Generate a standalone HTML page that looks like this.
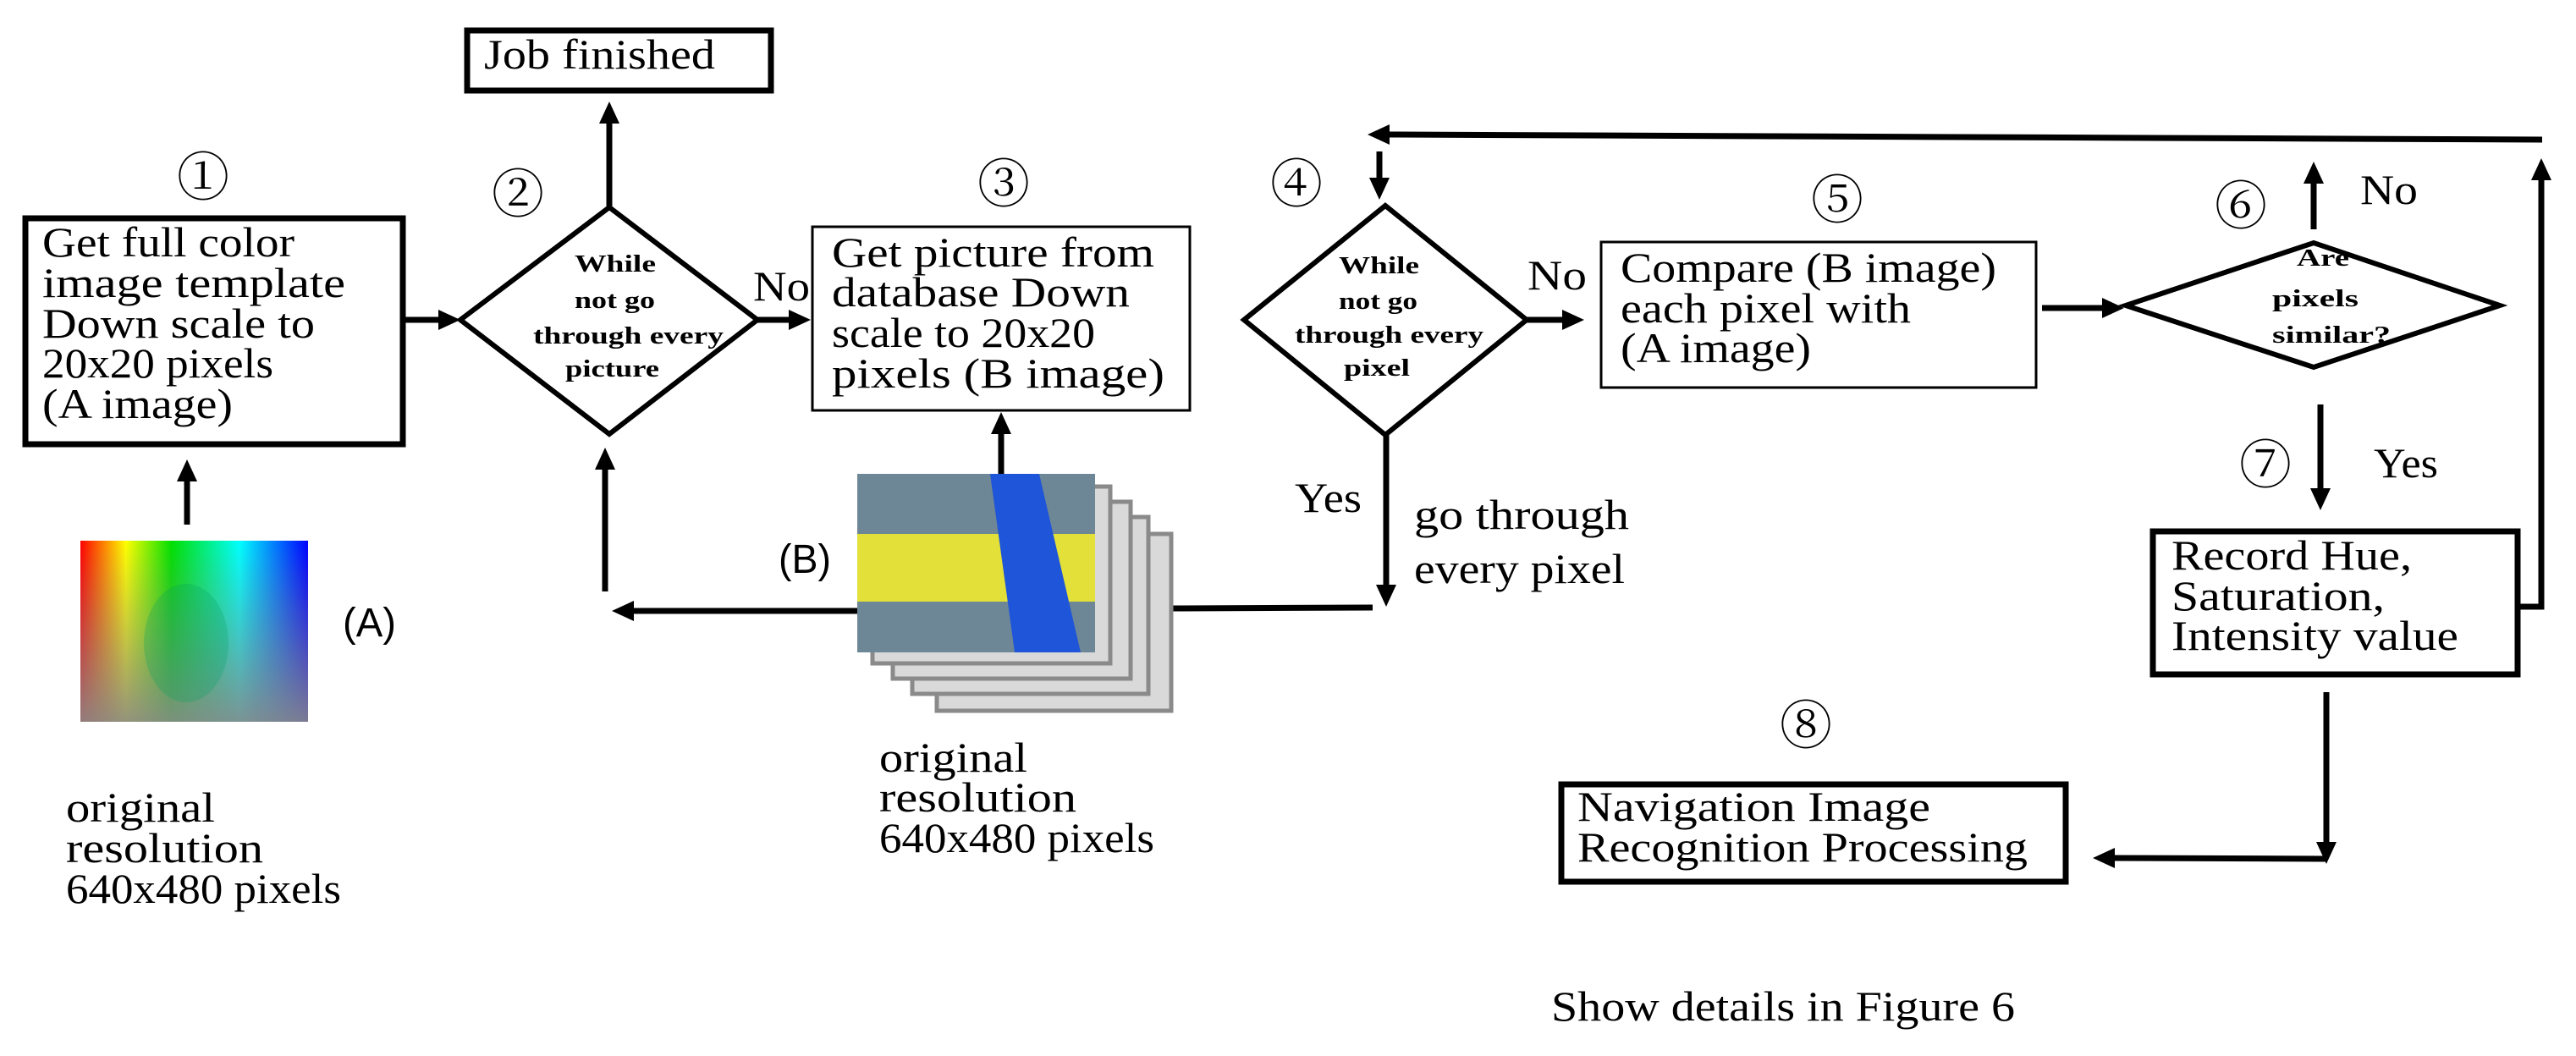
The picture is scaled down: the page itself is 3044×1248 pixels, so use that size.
<!DOCTYPE html>
<html><head><meta charset="utf-8"><style>
html,body{margin:0;padding:0;background:#fff}
svg{display:block}
.s{font-family:"Liberation Serif","Noto Serif CJK SC",serif;font-size:50px;fill:#000}
.b{font-family:"Liberation Serif",serif;font-size:28px;font-weight:bold;fill:#000}
.c{font-family:"Noto Serif CJK SC","Noto Sans CJK SC",serif;font-size:62px;fill:#000}
.a{font-family:"Liberation Sans",sans-serif;font-size:48px;fill:#000}
</style></head><body>
<svg width="3044" height="1248" viewBox="0 0 3044 1248" xmlns="http://www.w3.org/2000/svg">
<defs>
<linearGradient id="hue" x1="0" y1="0" x2="1" y2="0">
<stop offset="0" stop-color="#ff0000"/><stop offset="0.2" stop-color="#ffff00"/><stop offset="0.4" stop-color="#00e000"/><stop offset="0.7" stop-color="#00ffff"/><stop offset="1" stop-color="#0000ff"/>
</linearGradient>
<linearGradient id="fade" x1="0" y1="0" x2="0" y2="1">
<stop offset="0" stop-color="#888" stop-opacity="0"/><stop offset="1" stop-color="#888" stop-opacity="0.9"/>
</linearGradient>
</defs>
<g fill="none" stroke="#000">
<rect x="30" y="258" width="446" height="267" stroke-width="7"/>
<rect x="552" y="36" width="359" height="71" stroke-width="7"/>
<polygon points="544,378 720,245 895,378 720,513" stroke-width="6"/>
<rect x="960" y="268" width="446" height="217" stroke-width="3"/>
<polygon points="1470,378 1637,243 1804,378 1637,514" stroke-width="6"/>
<rect x="1892" y="286" width="514" height="172" stroke-width="3"/>
<polygon points="2512,361 2734,287 2954,361 2734,434" stroke-width="6"/>
<rect x="2544" y="628" width="431" height="169" stroke-width="7"/>
<rect x="1845" y="927" width="596" height="115" stroke-width="7"/>
</g>
<g stroke="#000" stroke-width="7" fill="none">
<line x1="479" y1="378" x2="522" y2="378"/>
<line x1="720" y1="245" x2="720" y2="140"/>
<line x1="895" y1="378" x2="936" y2="378"/>
<line x1="221" y1="620" x2="221" y2="565"/>
<line x1="1183" y1="560" x2="1183" y2="508"/>
<line x1="1013" y1="722" x2="745" y2="722"/>
<line x1="715" y1="699" x2="715" y2="552"/>
<line x1="1386" y1="719" x2="1622" y2="718"/>
<line x1="1638" y1="514" x2="1638" y2="695"/>
<line x1="3004" y1="165" x2="1638" y2="159"/>
<line x1="1630" y1="179" x2="1630" y2="214"/>
<line x1="1804" y1="378" x2="1850" y2="378"/>
<line x1="2413" y1="364" x2="2488" y2="364"/>
<line x1="2734" y1="271" x2="2734" y2="213"/>
<line x1="2742" y1="478" x2="2742" y2="581"/>
<polyline points="2978,717 3003,717 3003,209"/>
<line x1="2749" y1="818" x2="2749" y2="999"/>
<line x1="2749" y1="1015" x2="2495" y2="1014"/>
</g>
<g fill="#000">
<polygon points="544,378 518,366 518,390"/>
<polygon points="720,120 708,146 732,146"/>
<polygon points="958,378 932,366 932,390"/>
<polygon points="221,543 209,569 233,569"/>
<polygon points="1183,487 1171,513 1195,513"/>
<polygon points="723,722 749,710 749,734"/>
<polygon points="715,529 703,555 727,555"/>
<polygon points="1638,717 1626,691 1650,691"/>
<polygon points="1616,159 1642,147 1642,171"/>
<polygon points="1630,236 1618,210 1642,210"/>
<polygon points="1872,378 1846,366 1846,390"/>
<polygon points="2510,364 2484,352 2484,376"/>
<polygon points="2734,191 2722,217 2746,217"/>
<polygon points="2742,603 2730,577 2754,577"/>
<polygon points="3003,187 2991,213 3015,213"/>
<polygon points="2749,1021 2737,995 2761,995"/>
<polygon points="2473,1014 2499,1002 2499,1026"/>
</g>
<rect x="95" y="639" width="269" height="214" fill="url(#hue)"/>
<rect x="95" y="639" width="269" height="214" fill="url(#fade)"/>
<ellipse cx="220" cy="760" rx="50" ry="70" fill="#00a060" opacity="0.25"/>
<g fill="#d9d9d9" stroke="#8a8a8a" stroke-width="5">
<rect x="1107" y="631" width="277" height="209"/>
<rect x="1078" y="611" width="279" height="209"/>
<rect x="1055" y="593" width="281" height="209"/>
<rect x="1031" y="575" width="281" height="209"/>
</g>
<rect x="1013" y="560" width="281" height="211" fill="#6e8796"/>
<rect x="1013" y="631" width="281" height="80" fill="#e3e03a"/>
<polygon points="1170,560 1228,560 1277,771 1199,771" fill="#1f55d8"/>
<text class="s" x="572" y="81" textLength="273" lengthAdjust="spacingAndGlyphs">Job finished</text>
<text class="s" x="50" y="303" textLength="298" lengthAdjust="spacingAndGlyphs">Get full color</text>
<text class="s" x="50" y="351" textLength="358" lengthAdjust="spacingAndGlyphs">image template</text>
<text class="s" x="50" y="399" textLength="322" lengthAdjust="spacingAndGlyphs">Down scale to</text>
<text class="s" x="50" y="446" textLength="273" lengthAdjust="spacingAndGlyphs">20x20 pixels</text>
<text class="s" x="50" y="494" textLength="225" lengthAdjust="spacingAndGlyphs">(A image)</text>
<text class="b" x="679" y="321" textLength="96" lengthAdjust="spacingAndGlyphs">While</text>
<text class="b" x="679" y="364" textLength="95" lengthAdjust="spacingAndGlyphs">not go</text>
<text class="b" x="630" y="406" textLength="225" lengthAdjust="spacingAndGlyphs">through every</text>
<text class="b" x="668" y="445" textLength="111" lengthAdjust="spacingAndGlyphs">picture</text>
<text class="s" x="890" y="355" textLength="67" lengthAdjust="spacingAndGlyphs">No</text>
<text class="s" x="983" y="315" textLength="381" lengthAdjust="spacingAndGlyphs">Get picture from</text>
<text class="s" x="983" y="362" textLength="352" lengthAdjust="spacingAndGlyphs">database Down</text>
<text class="s" x="983" y="410" textLength="311" lengthAdjust="spacingAndGlyphs">scale to 20x20</text>
<text class="s" x="983" y="458" textLength="393" lengthAdjust="spacingAndGlyphs">pixels   (B image)</text>
<text class="b" x="1582" y="323" textLength="95" lengthAdjust="spacingAndGlyphs">While</text>
<text class="b" x="1582" y="365" textLength="93" lengthAdjust="spacingAndGlyphs">not go</text>
<text class="b" x="1530" y="405" textLength="223" lengthAdjust="spacingAndGlyphs">through every</text>
<text class="b" x="1588" y="444" textLength="78" lengthAdjust="spacingAndGlyphs">pixel</text>
<text class="s" x="1805" y="342" textLength="70" lengthAdjust="spacingAndGlyphs">No</text>
<text class="s" x="1915" y="333" textLength="444" lengthAdjust="spacingAndGlyphs">Compare (B image)</text>
<text class="s" x="1915" y="381" textLength="343" lengthAdjust="spacingAndGlyphs">each pixel with</text>
<text class="s" x="1915" y="428" textLength="225" lengthAdjust="spacingAndGlyphs">(A image)</text>
<text class="b" x="2714" y="314" textLength="62" lengthAdjust="spacingAndGlyphs">Are</text>
<text class="b" x="2685" y="362" textLength="102" lengthAdjust="spacingAndGlyphs">pixels</text>
<text class="b" x="2685" y="405" textLength="140" lengthAdjust="spacingAndGlyphs">similar?</text>
<text class="s" x="2789" y="241" textLength="68" lengthAdjust="spacingAndGlyphs">No</text>
<text class="s" x="2805" y="564" textLength="76" lengthAdjust="spacingAndGlyphs">Yes</text>
<text class="s" x="2566" y="673" textLength="284" lengthAdjust="spacingAndGlyphs">Record Hue,</text>
<text class="s" x="2566" y="721" textLength="252" lengthAdjust="spacingAndGlyphs">Saturation,</text>
<text class="s" x="2566" y="768" textLength="339" lengthAdjust="spacingAndGlyphs">Intensity value</text>
<text class="s" x="1864" y="970" textLength="417" lengthAdjust="spacingAndGlyphs">Navigation Image</text>
<text class="s" x="1864" y="1018" textLength="532" lengthAdjust="spacingAndGlyphs">Recognition Processing</text>
<text class="s" x="1833" y="1206" textLength="548" lengthAdjust="spacingAndGlyphs">Show details in Figure 6</text>
<text class="s" x="1530" y="605" textLength="79" lengthAdjust="spacingAndGlyphs">Yes</text>
<text class="s" x="1671" y="625" textLength="254" lengthAdjust="spacingAndGlyphs">go through</text>
<text class="s" x="1671" y="689" textLength="249" lengthAdjust="spacingAndGlyphs">every pixel</text>
<text class="s" x="78" y="971" textLength="176" lengthAdjust="spacingAndGlyphs">original</text>
<text class="s" x="78" y="1019" textLength="233" lengthAdjust="spacingAndGlyphs">resolution</text>
<text class="s" x="78" y="1067" textLength="325" lengthAdjust="spacingAndGlyphs">640x480 pixels</text>
<text class="s" x="1039" y="912" textLength="175" lengthAdjust="spacingAndGlyphs">original</text>
<text class="s" x="1039" y="959" textLength="233" lengthAdjust="spacingAndGlyphs">resolution</text>
<text class="s" x="1039" y="1007" textLength="325" lengthAdjust="spacingAndGlyphs">640x480 pixels</text>
<text class="a" x="405" y="752" textLength="63" lengthAdjust="spacingAndGlyphs">(A)</text>
<text class="a" x="920" y="677" textLength="62" lengthAdjust="spacingAndGlyphs">(B)</text>
<g class="c" text-anchor="middle">
<text x="240" y="231">①</text>
<text x="612" y="251">②</text>
<text x="1186" y="239">③</text>
<text x="1532" y="239">④</text>
<text x="2171" y="258">⑤</text>
<text x="2648" y="265">⑥</text>
<text x="2677" y="571">⑦</text>
<text x="2134" y="879">⑧</text>
</g>
</svg>
</body></html>
